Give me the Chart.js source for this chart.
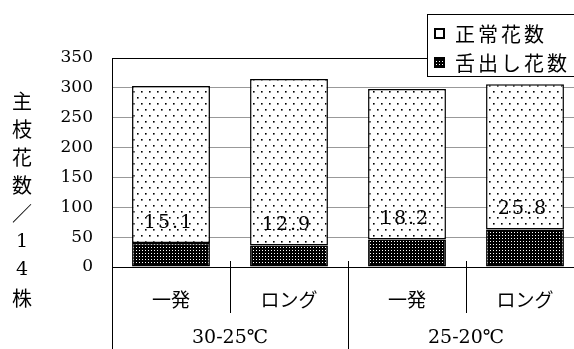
<!DOCTYPE html>
<html>
<head>
<meta charset="utf-8">
<script src="https://cdn.jsdelivr.net/npm/chart.js@4/dist/chart.umd.min.js"></script>
<style>
  html, body { margin: 0; padding: 0; background: #fff; overflow: hidden; }
  canvas { display: block; }
</style>
</head>
<body>
<canvas id="c" width="584" height="349"></canvas>
<script>
// Flower counts on the main stem (per 14 plants)
const categories = ['一発', 'ロング', '一発', 'ロング'];
const groups = ['30-25℃', '25-20℃'];
const normalFlowers = [263, 279, 252, 243];   // 正常花数
const tongueFlowers = [40, 36, 46, 63];       // 舌出し花数
const ratioLabels = ['15.1', '12.9', '18.2', '25.8'];
const yTicks = [0, 50, 100, 150, 200, 250, 300, 350];
const yTitle = ['主', '枝', '花', '数', '／', '1', '4', '株'];

const SERIF = "'DejaVu Serif', 'Liberation Serif', serif";
const CJK = "'Noto Sans CJK JP', sans-serif";

function makePattern(w, h, bg, fg, dots, size) {
  const c = document.createElement('canvas');
  c.width = w; c.height = h;
  const g = c.getContext('2d');
  g.fillStyle = bg; g.fillRect(0, 0, w, h);
  g.fillStyle = fg;
  dots.forEach(([dx, dy]) => g.fillRect(dx, dy, size, size));
  return g.createPattern(c, 'repeat');
}
const ctx = document.getElementById('c').getContext('2d');
const dotFill = makePattern(8, 12, '#fff', '#000', [[1, 1], [5, 7]], 1.6);
const darkFill = makePattern(3, 3, '#000', '#fff', [[1, 1]], 1);

const decor = {
  id: 'decor',
  afterDraw(chart) {
    const { ctx, chartArea: a, scales: { x, y } } = chart;
    const H = chart.height;
    ctx.save();
    ctx.strokeStyle = '#000';
    ctx.lineWidth = 1;

    // frame: left edge down through the label area, top edge
    ctx.beginPath();
    ctx.moveTo(a.left + 0.5, a.top);
    ctx.lineTo(a.left + 0.5, H);
    ctx.moveTo(a.left, a.top + 0.5);
    ctx.lineTo(a.right, a.top + 0.5);
    ctx.stroke();

    // category separators
    ctx.beginPath();
    for (let i = 1; i < categories.length; i++) {
      const bx = Math.round((x.getPixelForValue(i - 1) + x.getPixelForValue(i)) / 2) + 0.5;
      ctx.moveTo(bx, a.bottom - 6);
      ctx.lineTo(bx, i % 2 === 0 ? H : a.bottom + 46);
    }
    ctx.stroke();

    // group labels
    ctx.fillStyle = '#000';
    ctx.textAlign = 'center';
    ctx.textBaseline = 'middle';
    ctx.font = `19px ${SERIF}`;
    groups.forEach((g, gi) => {
      const cx = (x.getPixelForValue(gi * 2) + x.getPixelForValue(gi * 2 + 1)) / 2;
      ctx.fillText(g, cx, 338);
    });

    // ratio labels above the lower segment
    ctx.font = `19px ${SERIF}`;
    ctx.letterSpacing = '2px';
    ratioLabels.forEach((t, i) => {
      ctx.fillText(t, x.getPixelForValue(i) - 2, y.getPixelForValue(tongueFlowers[i]) - 20);
    });
    ctx.letterSpacing = '0px';

    // vertical axis title, one character per line
    yTitle.forEach((ch, i) => {
      ctx.font = /[0-9]/.test(ch) ? `19px ${SERIF}` : `20px ${CJK}`;
      ctx.fillText(ch, 22, 101 + i * 28.2);
    });

    // legend
    const lx = 427.5, ly = 14.5;
    ctx.fillStyle = '#fff';
    ctx.fillRect(lx, ly, 200, 62);
    ctx.strokeRect(lx, ly, 200, 62);
    const items = [
      { label: chart.data.datasets[1].label, fill: '#fff' },
      { label: chart.data.datasets[0].label, fill: chart.data.datasets[0].backgroundColor }
    ];
    ctx.textAlign = 'left';
    ctx.font = `20px ${CJK}`;
    ctx.letterSpacing = '3px';
    items.forEach((it, i) => {
      const cy = 33 + i * 29;
      ctx.fillStyle = it.fill;
      ctx.fillRect(434, cy - 5, 10, 10);
      ctx.lineWidth = 2;
      ctx.strokeRect(435, cy - 4, 9, 9);
      ctx.fillStyle = '#000';
      ctx.fillText(it.label, 455, cy + 1);
    });
    ctx.restore();
  }
};

new Chart(ctx, {
  type: 'bar',
  data: {
    labels: categories,
    datasets: [
      {
        label: '舌出し花数',
        data: tongueFlowers,
        backgroundColor: darkFill,
        borderColor: '#000',
        borderWidth: 1.5,
        borderSkipped: false
      },
      {
        label: '正常花数',
        data: normalFlowers,
        backgroundColor: dotFill,
        borderColor: '#000',
        borderWidth: 1.5,
        borderSkipped: false
      }
    ]
  },
  options: {
    responsive: false,
    animation: false,
    events: [],
    layout: { padding: { top: 58, left: 0, right: 0, bottom: 0 } },
    datasets: { bar: { categoryPercentage: 1, barPercentage: 0.66 } },
    plugins: { legend: { display: false }, tooltip: { enabled: false } },
    scales: {
      x: {
        stacked: true,
        offset: true,
        grid: { display: false, drawTicks: false },
        border: { display: true, color: '#000', width: 1 },
        ticks: { color: '#000', padding: 21, font: { family: CJK, size: 19 } },
        afterFit(s) { s.height = 82; }
      },
      y: {
        stacked: true,
        min: 0,
        max: 350,
        afterBuildTicks(s) { s.ticks = yTicks.map(v => ({ value: v })); },
        grid: {
          drawTicks: false,
          color: c => (c.tick && c.tick.value === 350 ? '#000' : '#999'),
          lineWidth: 1
        },
        border: { display: true, color: '#000', width: 1 },
        ticks: { color: '#000', padding: 19, font: { family: SERIF, size: 17 } },
        afterFit(s) { s.width = 112; }
      }
    }
  },
  plugins: [decor]
});
</script>
</body>
</html>
